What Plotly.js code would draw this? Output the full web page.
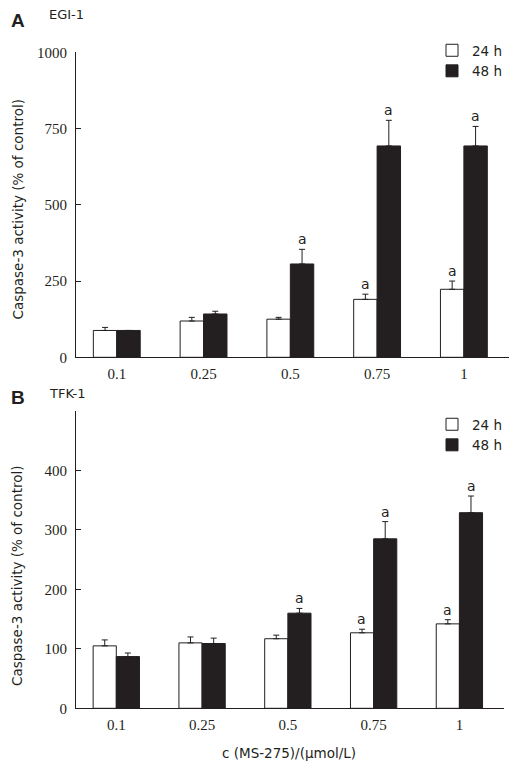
<!DOCTYPE html>
<html>
<head>
<meta charset="utf-8">
<script src="https://cdn.plot.ly/plotly-3.0.1.min.js"></script>
<style>html,body{margin:0;padding:0;background:#fff;}#chart{width:515px;height:770px;}</style>
</head>
<body>
<div id="chart"></div>
<script>
// ---- data ----
const categories = ["0.1", "0.25", "0.5", "0.75", "1"];
const seriesNames = ["24 h", "48 h"];
// Panel A: EGI-1
const egi24 = [88, 119, 125, 190, 223];
const egi24Err = [10, 12, 6, 17, 27];
const egi48 = [88, 142, 306, 693, 693];
const egi48Err = [0, 9, 48, 84, 64];
const egi24Sig = [0, 0, 0, 1, 1];
const egi48Sig = [0, 0, 1, 1, 1];
// Panel B: TFK-1
const tfk24 = [105, 110, 117, 127, 142];
const tfk24Err = [10, 10, 6, 6, 7];
const tfk48 = [87, 109, 160, 285, 329];
const tfk48Err = [6, 9, 8, 29, 28];
const tfk24Sig = [0, 0, 0, 1, 1];
const tfk48Sig = [0, 0, 1, 1, 1];
const yTicksA = [0, 250, 500, 750, 1000];
const yTicksB = [0, 100, 200, 300, 400, 500];
const yTickTextB = ["0", "100", "200", "300", "400", ""];

// ---- styles ----
const INK = "#231f20";
const W = 515, H = 770;
const sans = "DejaVu Sans, Verdana, sans-serif";
const serif = "Liberation Serif, Times New Roman, serif";

function barTrace(y, err, name, fill, xa, ya, legend) {
  return {
    type: "bar", x: categories, y: y, name: name,
    xaxis: xa, yaxis: ya, legend: legend, showlegend: true,
    marker: {color: fill, line: {color: INK, width: 1}},
    error_y: {type: "data", symmetric: false, array: err,
              arrayminus: err.map(() => 0), color: INK, thickness: 1, width: 3},
    hoverinfo: "x+y"
  };
}

const data = [
  barTrace(egi24, egi24Err, seriesNames[0], "#ffffff", "x", "y", "legend"),
  barTrace(egi48, egi48Err, seriesNames[1], INK, "x", "y", "legend"),
  barTrace(tfk24, tfk24Err, seriesNames[0], "#ffffff", "x2", "y2", "legend2"),
  barTrace(tfk48, tfk48Err, seriesNames[1], INK, "x2", "y2", "legend2")
];

const annotations = [];
function sigMarks(vals, errs, sig, xref, yref, shift) {
  sig.forEach((s, i) => {
    if (!s) return;
    annotations.push({
      x: i, y: vals[i] + errs[i], xref: xref, yref: yref,
      text: "a", showarrow: false, xshift: shift, yshift: 0,
      xanchor: "center", yanchor: "bottom", font: {family: sans, size: 14, color: INK}
    });
  });
}
sigMarks(egi24, egi24Err, egi24Sig, "x", "y", -11.7);
sigMarks(egi48, egi48Err, egi48Sig, "x", "y", 11.7);
sigMarks(tfk24, tfk24Err, tfk24Sig, "x2", "y2", -11.7);
sigMarks(tfk48, tfk48Err, tfk48Sig, "x2", "y2", 11.7);

function paperText(text, px, py, size, opts) {
  return Object.assign({
    text: text, xref: "paper", yref: "paper", x: px / W, y: 1 - py / H,
    xanchor: "center", yanchor: "middle",
    showarrow: false, font: {family: sans, size: size, color: INK}
  }, opts || {});
}
const boldFont = {family: "Liberation Sans, Arial, sans-serif", size: 19, color: INK};
annotations.push(paperText("<b>A</b>", 9, 20, 19, {xanchor: "left", font: boldFont}));
annotations.push(paperText("EGI-1", 47, 15, 13, {xanchor: "left"}));
annotations.push(paperText("<b>B</b>", 9, 398, 19, {xanchor: "left", font: boldFont}));
annotations.push(paperText("TFK-1", 47, 394, 13, {xanchor: "left"}));
annotations.push(paperText("Caspase-3 activity (% of control)", 17, 209.5, 13.5, {textangle: -90}));
annotations.push(paperText("Caspase-3 activity (% of control)", 17, 576, 13.5, {textangle: -90}));
annotations.push(paperText("c (MS-275)/(μmol/L)", 289, 753, 13.5));

const xCommon = {
  type: "category", range: [-0.47, 4.52], showline: true, linecolor: INK, linewidth: 1,
  ticks: "", showgrid: false, zeroline: false, fixedrange: true,
  tickfont: {family: serif, size: 15, color: INK}, ticklabelstandoff: 3
};
const yCommon = {
  showline: true, linecolor: INK, linewidth: 1, ticks: "inside", ticklen: 5,
  tickcolor: INK, tickwidth: 1, showgrid: false, zeroline: false,
  tickfont: {family: serif, size: 15, color: INK}, ticklabelstandoff: 5, tickmode: "array"
};

const layout = {
  width: W, height: H, margin: {l: 0, r: 0, t: 0, b: 0},
  paper_bgcolor: "#ffffff", plot_bgcolor: "#ffffff",
  barmode: "group", bargap: 0.46, bargroupgap: 0,
  xaxis: Object.assign({}, xCommon, {domain: [76 / W, 509 / W], anchor: "y"}),
  yaxis: Object.assign({}, yCommon, {domain: [1 - 357.3 / H, 1 - 52.3 / H], range: [0, 1000],
    tickvals: yTicksA, anchor: "x"}),
  xaxis2: Object.assign({}, xCommon, {domain: [76 / W, 504 / W], anchor: "y2"}),
  yaxis2: Object.assign({}, yCommon, {domain: [1 - 708.3 / H, 1 - 411 / H], range: [0, 500],
    tickvals: yTicksB, ticktext: yTickTextB, anchor: "x2"}),
  legend: {x: 432 / W, y: 1 - 35 / H, xanchor: "left", yanchor: "top", bgcolor: "rgba(0,0,0,0)",
    font: {family: sans, size: 13.5, color: INK}, tracegroupgap: 0},
  legend2: {x: 432 / W, y: 1 - 409 / H, xanchor: "left", yanchor: "top", bgcolor: "rgba(0,0,0,0)",
    font: {family: sans, size: 13.5, color: INK}, tracegroupgap: 0},
  annotations: annotations,
  font: {family: sans, color: INK}
};

Plotly.newPlot("chart", data, layout, {displayModeBar: false, staticPlot: true});
</script>
</body>
</html>
